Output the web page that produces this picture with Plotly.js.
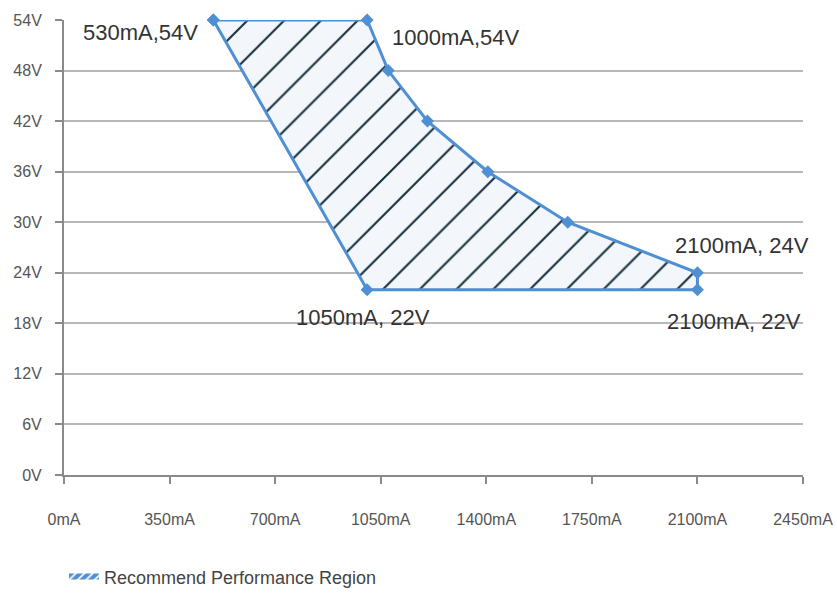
<!DOCTYPE html>
<html>
<head>
<meta charset="utf-8">
<script src="https://cdn.plot.ly/plotly-3.0.1.min.js"></script>
<style>html,body{margin:0;padding:0;background:#fff;}#chart{width:837px;height:595px;}</style>
</head>
<body>
<div id="chart"></div>
<script>
// Region boundary (current mA, voltage V), closed polygon
const currentMA = [495, 1005, 1075, 1205, 1405, 1670, 2100, 2100, 1005, 495];
const voltageV  = [54, 54, 48, 42, 36, 30, 24, 22, 22, 54];
const seriesName = 'Recommend Performance Region';

// Point labels
const labelText = ['530mA,54V', '1000mA,54V', '2100mA, 24V', '2100mA, 22V', '1050mA, 22V'];
const labelX    = [495, 1005, 2100, 2100, 1005];
const labelY    = [54, 54, 24, 22, 22];

// Axis ticks
const xTickVals = [0, 350, 700, 1050, 1400, 1750, 2100, 2450];
const xTickText = ['0mA', '350mA', '700mA', '1050mA', '1400mA', '1750mA', '2100mA', '2450mA'];
const yTickVals = [0, 6, 12, 18, 24, 30, 36, 42, 48, 54];
const yTickText = ['0V', '6V', '12V', '18V', '24V', '30V', '36V', '42V', '48V', '54V'];

const labelShift = [[-73, -12], [89, -17], [45, 27], [37, -32], [-4, -28]];

const FONT = 'Liberation Sans, Arial, sans-serif';

const region = {
  type: 'scatter',
  mode: 'lines+markers',
  x: currentMA,
  y: voltageV,
  name: seriesName,
  fill: 'toself',
  fillpattern: {shape: '/', fgcolor: '#17303d', bgcolor: '#f3f7fb', size: 26, solidity: 0.08},
  line: {color: '#4f8fd4', width: 3},
  marker: {symbol: 'diamond', size: 10, color: '#4f8fd4'},
  cliponaxis: false,
  showlegend: false
};

// legend-only swatch for the region
const legendSwatch = {
  type: 'scatter',
  mode: 'none',
  x: [null], y: [null],
  name: seriesName,
  fill: 'toself',
  fillpattern: {shape: '/', fgcolor: '#ffffff', bgcolor: '#4f8fd4', size: 6, solidity: 0.3},
  showlegend: true
};

const annotations = labelText.map((t, i) => ({
  x: labelX[i], y: labelY[i], xref: 'x', yref: 'y',
  text: t, showarrow: false,
  xshift: labelShift[i][0], yshift: labelShift[i][1],
  font: {family: FONT, size: 22, color: '#333'}
}));

const layout = {
  width: 837, height: 595,
  margin: {l: 64, r: 34, t: 20, b: 120, autoexpand: false},
  paper_bgcolor: '#fff', plot_bgcolor: '#fff',
  font: {family: FONT, color: '#555', size: 16},
  xaxis: {
    range: [0, 2450], tickvals: xTickVals, ticktext: xTickText,
    showgrid: false, zeroline: false,
    showline: true, linecolor: '#8a8a8a', linewidth: 2,
    ticks: 'outside', ticklen: 7, tickcolor: '#8a8a8a', tickwidth: 2,
    ticklabelstandoff: 22,
    tickfont: {family: FONT, size: 16, color: '#555'}
  },
  yaxis: {
    range: [0, 54], tickvals: yTickVals, ticktext: yTickText,
    showgrid: true, gridcolor: '#b8b8b8', gridwidth: 2,
    zeroline: false,
    showline: true, linecolor: '#8a8a8a', linewidth: 2,
    ticks: 'outside', ticklen: 7, tickcolor: '#8a8a8a', tickwidth: 2,
    ticklabelstandoff: 10,
    tickfont: {family: FONT, size: 16, color: '#555'}
  },
  showlegend: true,
  legend: {
    orientation: 'h', x: 0.0, xanchor: 'left', y: -0.224, yanchor: 'middle',
    font: {family: FONT, size: 18, color: '#444'}, bgcolor: 'rgba(0,0,0,0)'
  },
  annotations: annotations
};

Plotly.newPlot('chart', [region, legendSwatch], layout, {displayModeBar: false, staticPlot: true});
</script>
</body>
</html>
